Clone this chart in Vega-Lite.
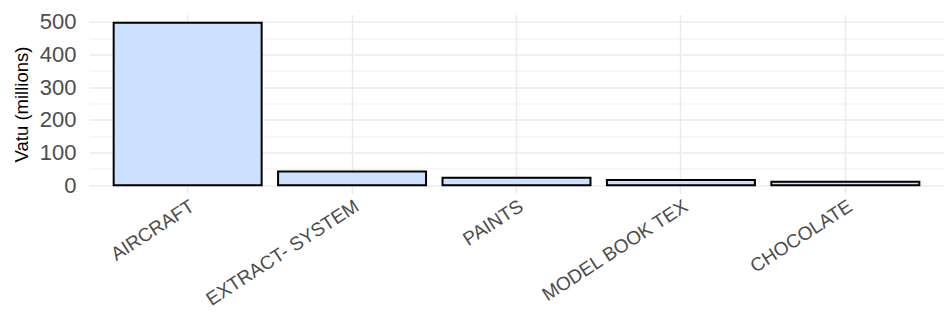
{
  "$schema": "https://vega.github.io/schema/vega-lite/v6.json",
  "autosize": "none",
  "width": 855,
  "height": 179,
  "padding": {"left": 89, "top": 14.5, "right": 0, "bottom": 122.5},
  "background": "white",
  "data": {"values": [
    {"product": "AIRCRAFT", "value": 497},
    {"product": "EXTRACT- SYSTEM", "value": 42},
    {"product": "PAINTS", "value": 23},
    {"product": "MODEL BOOK TEX", "value": 16},
    {"product": "CHOCOLATE", "value": 11}
  ]},
  "mark": {"type": "bar", "fill": "#CCE0FF", "stroke": "black", "strokeWidth": 2},
  "encoding": {
    "x": {
      "field": "product", "type": "nominal", "sort": null,
      "scale": {"paddingInner": 0.1, "paddingOuter": 0.15},
      "axis": {
        "title": null, "domain": false, "ticks": false, "tickSize": 0,
        "bandPosition": 0.5, "grid": true, "gridColor": "#EBEBEB", "gridWidth": 1.5,
        "labelAngle": -33, "labelAlign": "right", "labelBaseline": "top",
        "labelFont": "Liberation Sans", "labelFontSize": 19, "labelColor": "#4D4D4D",
        "labelPadding": 3, "labelLimit": 0, "labelOverlap": false
      }
    },
    "y": {
      "field": "value", "type": "quantitative",
      "scale": {"domain": [-24.85, 521.85], "nice": false, "zero": false},
      "axis": {
        "title": "Vatu (millions)", "titleFont": "Liberation Sans", "titleFontSize": 18.5,
        "titleFontWeight": "normal", "titleColor": "black", "titlePadding": 8,
        "values": [0, 50, 100, 150, 200, 250, 300, 350, 400, 450, 500],
        "labelExpr": "datum.value % 100 === 0 ? datum.label : ''",
        "domain": false, "ticks": false, "tickSize": 0,
        "grid": true, "gridColor": "#EBEBEB",
        "gridWidth": {"condition": {"test": "datum.value % 100 === 0", "value": 1.5}, "value": 0.8},
        "labelFont": "Liberation Sans", "labelFontSize": 22, "labelColor": "#4D4D4D",
        "labelPadding": 13
      }
    },
    "y2": {"datum": 0}
  },
  "config": {"view": {"stroke": null}}
}
